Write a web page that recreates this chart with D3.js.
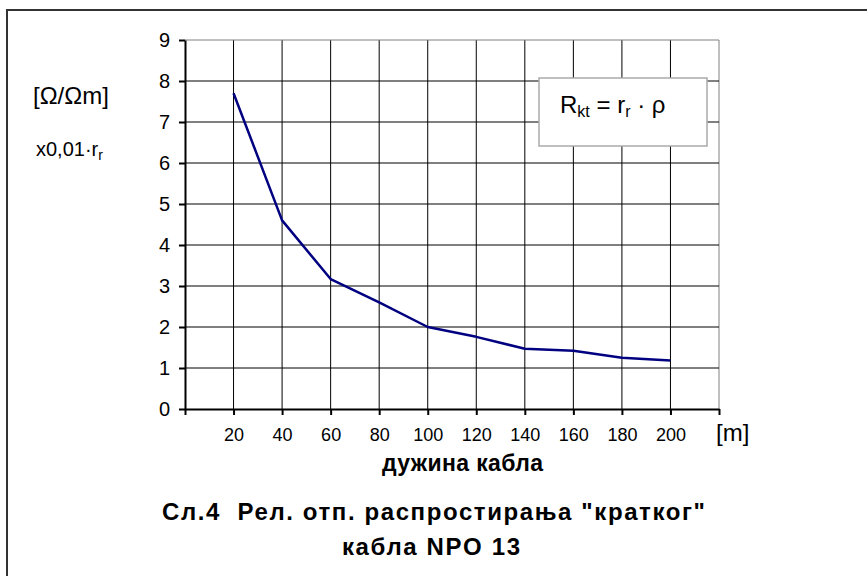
<!DOCTYPE html>
<html>
<head>
<meta charset="utf-8">
<script src="https://cdn.jsdelivr.net/npm/d3@7"></script>
<style>
  body { margin: 0; background: #fff; }
  text { font-family: "Liberation Sans", Arial, sans-serif; fill: #000; }
</style>
</head>
<body>
<div id="chart"></div>
<script>
// cable length [m] and relative resistance values
var lengths = [20, 40, 60, 80, 100, 120, 140, 160, 180, 200];
var resist = [7.7, 4.6, 3.17, 2.6, 2.0, 1.76, 1.47, 1.42, 1.25, 1.18];
var xTicks = [0, 20, 40, 60, 80, 100, 120, 140, 160, 180, 200, 220];
var xLabels = [20, 40, 60, 80, 100, 120, 140, 160, 180, 200];
var yTicks = [0, 1, 2, 3, 4, 5, 6, 7, 8, 9];

var W = 867, H = 576;
var pLeft = 185, pRight = 719, pTop = 40, pBottom = 409;

var svg = d3.select("#chart").append("svg")
  .attr("width", W)
  .attr("height", H);

// outer frame (runs off the page on right and bottom)
svg.append("rect")
  .attr("x", 7).attr("y", 10)
  .attr("width", 920).attr("height", 620)
  .attr("fill", "none")
  .attr("stroke", "#333")
  .attr("stroke-width", 2);

var x = d3.scaleLinear().domain([0, 220]).range([pLeft, pRight]);
var y = d3.scaleLinear().domain([0, 9]).range([pBottom, pTop]);

// grid
svg.append("g").selectAll("line")
  .data(xTicks.slice(1))
  .enter().append("line")
    .attr("x1", function(d) { return x(d); })
    .attr("x2", function(d) { return x(d); })
    .attr("y1", pTop).attr("y2", pBottom)
    .attr("stroke", function(d) { return d == 220 ? "#808080" : "#000"; })
    .attr("stroke-width", 1);

svg.append("g").selectAll("line")
  .data(yTicks.slice(1))
  .enter().append("line")
    .attr("x1", pLeft).attr("x2", pRight)
    .attr("y1", function(d) { return y(d); })
    .attr("y2", function(d) { return y(d); })
    .attr("stroke", function(d) { return d == 9 ? "#808080" : "#000"; })
    .attr("stroke-width", 1);

// y axis
var yAxis = svg.append("g")
  .attr("transform", "translate(" + pLeft + ",0)")
  .call(d3.axisLeft(y).tickValues(yTicks).tickSize(6).tickPadding(9).tickSizeOuter(0));
yAxis.select(".domain").attr("stroke", "#000").attr("stroke-width", 2);
yAxis.selectAll(".tick line").attr("stroke", "#000").attr("stroke-width", 2);
yAxis.selectAll("text")
  .style("font-family", "'Liberation Sans', Arial, sans-serif")
  .style("font-size", "20px")
  .attr("fill", "#000");

// x axis (ticks at every 20, labels only 20..200)
var xAxis = svg.append("g")
  .attr("transform", "translate(0," + pBottom + ")")
  .call(d3.axisBottom(x).tickValues(xTicks).tickSize(6).tickPadding(13).tickSizeOuter(0)
    .tickFormat(function(d) { return xLabels.indexOf(d) >= 0 ? d : ""; }));
xAxis.select(".domain").attr("stroke", "#000").attr("stroke-width", 2);
xAxis.selectAll(".tick line").attr("stroke", "#000").attr("stroke-width", 2);
xAxis.selectAll("text")
  .style("font-family", "'Liberation Sans', Arial, sans-serif")
  .style("font-size", "18px")
  .attr("fill", "#000");

// data line
var line = d3.line()
  .x(function(d, i) { return x(lengths[i]); })
  .y(function(d) { return y(d); });

svg.append("path")
  .datum(resist)
  .attr("d", line)
  .attr("fill", "none")
  .attr("stroke", "#000080")
  .attr("stroke-width", 2.5)
  .attr("stroke-linejoin", "round");

// formula box
svg.append("rect")
  .attr("x", 539).attr("y", 78)
  .attr("width", 168).attr("height", 68)
  .attr("fill", "#fff")
  .attr("stroke", "#aaa")
  .attr("stroke-width", 1.5);

var f = svg.append("text")
  .attr("x", 560).attr("y", 113)
  .style("font-size", "24px");
f.append("tspan").text("R");
f.append("tspan").attr("dy", 4).style("font-size", "16px").text("kt");
f.append("tspan").attr("dy", -4).text(" = r");
f.append("tspan").attr("dy", 4).style("font-size", "16px").text("r");
f.append("tspan").attr("dy", -4).text(" \u00b7 \u03c1");

// y unit labels
svg.append("text")
  .attr("x", 33).attr("y", 104)
  .style("font-size", "24px")
  .text("[\u03a9/\u03a9m]");

var s = svg.append("text")
  .attr("x", 36).attr("y", 156)
  .style("font-size", "20px");
s.append("tspan").text("x0,01\u00b7r");
s.append("tspan").attr("dy", 4).style("font-size", "14px").text("r");

// x unit
svg.append("text")
  .attr("x", 716).attr("y", 441)
  .style("font-size", "24px")
  .text("[m]");

// axis title
svg.append("text")
  .attr("x", 382).attr("y", 471)
  .attr("textLength", 161)
  .attr("lengthAdjust", "spacing")
  .style("font-size", "23px")
  .style("font-weight", "bold")
  .text("дужина кабла");

// chart title
svg.append("text")
  .attr("x", 162).attr("y", 520)
  .attr("textLength", 543)
  .attr("lengthAdjust", "spacing")
  .style("font-size", "24px")
  .style("font-weight", "bold")
  .style("white-space", "pre")
  .text("Сл.4  Рел. отп. распростирања \"кратког\"");

svg.append("text")
  .attr("x", 342).attr("y", 555)
  .attr("textLength", 178)
  .attr("lengthAdjust", "spacing")
  .style("font-size", "24px")
  .style("font-weight", "bold")
  .text("кабла NPO 13");
</script>
</body>
</html>
